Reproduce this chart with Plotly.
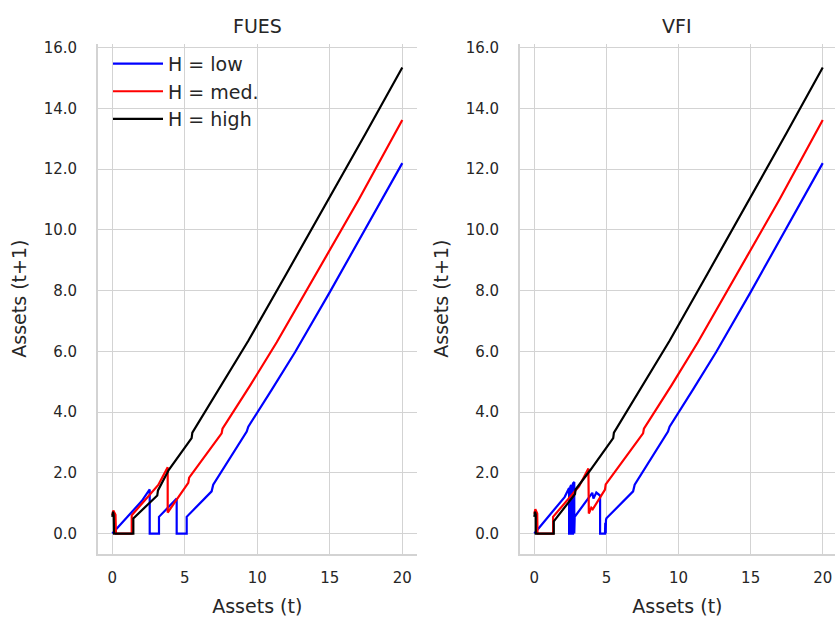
import plotly.graph_objects as go

# Policy functions: next-period assets as a function of current assets,
# for three levels of H, solved with FUES (left) and VFI (right).

# ---- FUES ----
fues_low_x = [0.0, 2.03, 2.58, 2.58, 3.22, 3.22, 4.44, 4.44, 5.13, 5.13, 6.85, 6.96,
              9.27, 9.38, 11.0, 12.6, 15.0, 17.5, 20.0]
fues_low_y = [0.0, 1.07, 1.45, 0.0, 0.0, 0.55, 1.15, 0.0, 0.0, 0.55, 1.39, 1.61,
              3.36, 3.52, 4.74, 5.97, 7.95, 10.05, 12.2]

fues_med_x = [0.0, 0.07, 0.22, 0.25, 1.34, 1.34, 3.17, 3.82, 3.82, 5.24, 5.3,
              7.54, 7.6, 9.5, 11.34, 14.0, 17.0, 20.0]
fues_med_y = [0.6, 0.76, 0.62, 0.0, 0.0, 0.6, 1.6, 2.18, 0.69, 1.67, 1.84,
              3.3, 3.45, 4.87, 6.3, 8.5, 11.0, 13.62]

fues_high_x = [0.0, 0.05, 0.1, 0.12, 1.45, 1.45, 3.1, 3.15, 3.9, 5.47, 5.52,
               7.4, 9.38, 12.0, 15.0, 17.5, 20.0]
fues_high_y = [0.55, 0.72, 0.6, 0.0, 0.0, 0.5, 1.25, 1.42, 2.1, 3.14, 3.32,
               4.8, 6.35, 8.55, 11.07, 13.2, 15.35]

# ---- VFI ----
vfi_low_x = [0.0, 2.1, 2.41, 2.41, 2.5, 2.5, 2.59, 2.59, 2.68, 2.68, 2.77, 2.77, 2.8,
             2.8, 4.02, 4.1, 4.3, 4.56, 4.56, 4.9, 4.92, 4.95, 4.97, 5.0, 6.85, 6.96,
             9.27, 9.38, 11.0, 12.6, 15.0, 17.5, 20.0]
vfi_low_y = [0.0, 1.2, 1.5, 0.0, 0.0, 1.55, 1.6, 0.0, 0.0, 1.65, 1.7, 0.0, 0.0,
             0.55, 1.34, 1.15, 1.35, 1.25, 0.0, 0.0, 0.35, 0.0, 0.45, 0.5, 1.39, 1.61,
             3.36, 3.52, 4.74, 5.97, 7.95, 10.05, 12.2]

vfi_med_x = [0.0, 0.07, 0.2, 0.22, 1.3, 1.3, 3.1, 3.75, 3.78, 3.95, 4.05, 4.9, 4.95,
             7.54, 7.6, 9.5, 11.34, 14.0, 17.0, 20.0]
vfi_med_y = [0.65, 0.8, 0.66, 0.0, 0.0, 0.55, 1.55, 2.14, 0.66, 0.85, 0.8, 1.45, 1.62,
             3.3, 3.45, 4.87, 6.3, 8.5, 11.0, 13.62]

vfi_high_x = [0.0, 0.05, 0.1, 0.1, 1.35, 1.35, 2.82, 2.86, 3.9, 5.47, 5.52,
              7.4, 9.38, 12.0, 15.0, 17.5, 20.0]
vfi_high_y = [0.55, 0.72, 0.62, 0.0, 0.0, 0.4, 1.3, 1.45, 2.1, 3.14, 3.32,
              4.8, 6.35, 8.55, 11.07, 13.2, 15.35]

series_names = ["H = low", "H = med.", "H = high"]
series_colors = ["#0000ff", "#ff0000", "#000000"]
panel_titles = ["FUES", "VFI"]
y_ticks = [0, 2, 4, 6, 8, 10, 12, 14, 16]
x_ticks = [0, 5, 10, 15, 20]

panels = [
    [(fues_low_x, fues_low_y), (fues_med_x, fues_med_y), (fues_high_x, fues_high_y)],
    [(vfi_low_x, vfi_low_y), (vfi_med_x, vfi_med_y), (vfi_high_x, vfi_high_y)],
]

W, H = 835, 623
FONT = "DejaVu Sans"
TEXT = "#262626"
GRID = "#d3d3d3"

fig = go.Figure()
for p, curves in enumerate(panels):
    xa = "x" if p == 0 else "x2"
    ya = "y" if p == 0 else "y2"
    for k, (xs, ys) in enumerate(curves):
        fig.add_trace(go.Scatter(
            x=xs, y=ys, mode="lines", name=series_names[k],
            line=dict(color=series_colors[k], width=2.2),
            xaxis=xa, yaxis=ya, showlegend=(p == 0),
        ))

y_dom = [1 - 553 / H, 1 - 39 / H]
axis_common = dict(
    showgrid=True, gridcolor=GRID, gridwidth=1.2,
    showline=True, linecolor=GRID, linewidth=1.5,
    zeroline=False, ticks="",
    tickfont=dict(family=FONT, size=15, color=TEXT),
)
title_font = dict(size=19, family=FONT, color=TEXT)

fig.update_layout(
    width=W, height=H,
    margin=dict(l=0, r=0, t=0, b=0),
    paper_bgcolor="white", plot_bgcolor="white",
    font=dict(family=FONT, color=TEXT),
    xaxis=dict(domain=[97.8 / W, 416.8 / W], range=[-1, 21], tickvals=x_ticks,
               anchor="y", ticklabelstandoff=10,
               title=dict(text="Assets (t)", font=title_font, standoff=13),
               **axis_common),
    yaxis=dict(domain=y_dom, range=[-0.66, 16.134], tickvals=y_ticks, tickformat=".1f",
               anchor="x", ticklabelstandoff=16,
               title=dict(text="Assets (t+1)", font=title_font, standoff=12),
               **axis_common),
    xaxis2=dict(domain=[519.9 / W, 1.0], range=[-1, 20.85], tickvals=x_ticks,
                anchor="y2", ticklabelstandoff=10,
                title=dict(text="Assets (t)", font=title_font, standoff=13),
                **axis_common),
    yaxis2=dict(domain=y_dom, range=[-0.66, 16.134], tickvals=y_ticks, tickformat=".1f",
                anchor="x2", ticklabelstandoff=16,
                title=dict(text="Assets (t+1)", font=title_font, standoff=12),
                **axis_common),
    legend=dict(x=108 / W, y=1 - 40 / H, xanchor="left", yanchor="top",
                bgcolor="rgba(255,255,255,0)", borderwidth=0,
                font=dict(family=FONT, size=19, color=TEXT), itemwidth=50),
    annotations=[
        dict(text=panel_titles[0], x=257 / W, y=1 - 21 / H, xref="paper", yref="paper",
             showarrow=False, xanchor="center", yanchor="middle",
             font=dict(family=FONT, size=19, color=TEXT)),
        dict(text=panel_titles[1], x=677 / W, y=1 - 21 / H, xref="paper", yref="paper",
             showarrow=False, xanchor="center", yanchor="middle",
             font=dict(family=FONT, size=19, color=TEXT)),
    ],
)

fig.write_html("out.html")
